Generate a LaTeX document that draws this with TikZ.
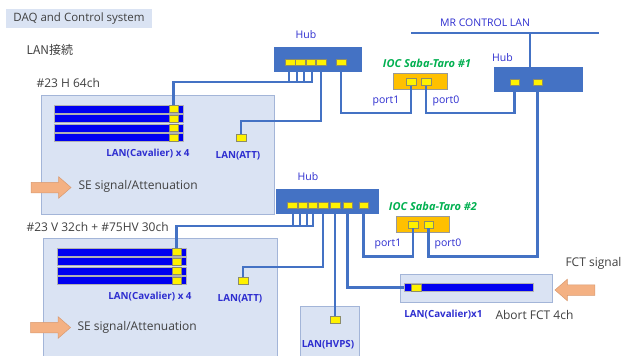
\documentclass[tikz,border=0pt]{standalone}
\usepackage{fontspec}
\setmainfont{Open Sans}
\newfontfamily\jpfont{Noto Sans CJK JP}
\usetikzlibrary{shapes.arrows}
\definecolor{panelf}{HTML}{DAE3F3}
\definecolor{paneld}{HTML}{A3B5D8}
\definecolor{barblue}{HTML}{0000F0}
\definecolor{hubblue}{HTML}{4472C4}
\definecolor{portd}{HTML}{8C8C6A}
\definecolor{iocorange}{HTML}{FFC000}
\definecolor{iocgreen}{HTML}{00B050}
\definecolor{lanblue}{HTML}{2E2ED0}
\definecolor{textgray}{HTML}{404040}
\definecolor{sigf}{HTML}{F4B183}
\definecolor{sigd}{HTML}{D99A70}
\tikzset{
  % light panels holding the crates
  panel/.style  = {draw=paneld, fill=panelf, line width=0.7pt, inner sep=0pt},
  bar/.style    = {draw=gray!60, fill=barblue, line width=0.4pt, inner sep=0pt,
                   minimum width=129pt, minimum height=8pt},
  port/.style   = {draw=portd, fill=yellow, line width=0.5pt, inner sep=0pt,
                   minimum width=9.5pt, minimum height=7pt},
  hub/.style    = {fill=hubblue, inner sep=0pt, minimum height=25pt},
  ioc/.style    = {draw=gray!80, fill=iocorange, line width=0.6pt, inner sep=0pt,
                   minimum width=54pt, minimum height=16pt},
  wire/.style   = {draw=hubblue, line width=2.4pt},
  lbl/.style    = {text=lanblue, font=\fontsize{10.5}{12}\selectfont},
  lanlbl/.style = {text=lanblue, font=\fontsize{9.8}{11}\selectfont\bfseries},
  iocname/.style= {text=iocgreen, font=\fontsize{11}{13}\selectfont\bfseries\itshape},
  tag/.style    = {text=textgray, font=\fontsize{12}{14}\selectfont},
  fat/.style    = {single arrow, draw=sigd, fill=sigf, line width=0.5pt,
                   inner xsep=0pt, inner ysep=5pt, minimum height=40pt,
                   single arrow head extend=5.5pt, single arrow tip angle=82},
}
\begin{document}
\begin{tikzpicture}[x=1pt,y=-1pt]
\useasboundingbox (0,0) rectangle (621,356);
\clip (0,0) rectangle (621,356);
\fill[white] (0,0) rectangle (621,356);
% headings
\node[fill=panelf, minimum width=146pt, minimum height=19pt, inner sep=0pt, text=textgray,
      font=\fontsize{11.5}{13}\selectfont] (title) at (79,18.5) {DAQ and Control system};
\node[tag, anchor=west] (lanhead) at (23,50) {\jpfont LAN接続};
\node[tag, anchor=west] (nameA) at (33,83) {\#23 H 64ch};
\node[tag, anchor=west] (nameB) at (23,227) {\#23 V 32ch + \#75HV 30ch};
% panels
\node[panel, minimum width=233pt, minimum height=119pt] (panA) at (157.5,154.5) {};
\node[panel, minimum width=234pt, minimum height=124pt] (panB) at (160,300) {};
\node[panel, minimum width=59pt, minimum height=56pt] (panH) at (329.5,334) {};
\node[panel, minimum width=152pt, minimum height=28pt] (panF) at (476,288) {};
% cavalier crates
\foreach \i in {1,...,4} {
  \node[bar] (barA\i) at (118.5,{109+9.5*(\i-1)}) {};
  \node[port] (cavA\i) at (173.5,{109+9.5*(\i-1)}) {};
  \node[bar] (barB\i) at (121.5,{252+9.5*(\i-1)}) {};
  \node[port] (cavB\i) at (176.5,{252+9.5*(\i-1)}) {};
}
\node[lanlbl] (capA) at (148,154) {LAN(Cavalier) x 4};
\node[lanlbl] (capB) at (150,297) {LAN(Cavalier) x 4};
\node[port] (attA) at (241,137.5) {};
\node[port] (attB) at (243,280.5) {};
\node[lanlbl] (attlblA) at (238,156) {LAN(ATT)};
\node[lanlbl] (attlblB) at (240,299) {LAN(ATT)};
\node[port] (hvps) at (335,319.5) {};
\node[lanlbl] (hvlbl) at (328,345) {LAN(HVPS)};
\node[bar] (fctbar) at (468.5,287.5) {};
\node[port] (fctp) at (416,287.5) {};
\node[lanlbl, anchor=east] (fctlbl) at (486,315) {LAN(Cavalier)x1};
\node[tag, anchor=west] (fctname) at (492,315) {Abort FCT 4ch};
% signals
\node[fat] (sigA) at (48,187.5) {};
\node[fat] (sigB) at (47.5,327.5) {};
\node[fat, shape border rotate=180] (sigF) at (578,290) {};
\node[tag, anchor=west] at (75,186) {SE signal/Attenuation};
\node[tag, anchor=west] at (74,327) {SE signal/Attenuation};
\node[tag, anchor=west] (fctsig) at (562,263) {FCT signal};
% hubs
\node[hub, minimum width=88pt] (hA) at (318,59.5) {};
\node[hub, minimum width=103pt] (hB) at (327.5,201.5) {};
\node[hub, minimum width=89pt] (hC) at (538.5,79.5) {};
\node[lbl] at (306,35) {Hub};
\node[lbl] at (308,177) {Hub};
\node[lbl] at (502.5,58) {Hub};
\foreach \x [count=\n] in {290,300,310.5,321,341}
  \node[port, minimum height=6.5pt] (hA\n) at (\x,62) {};
\foreach \x [count=\n] in {292,302.5,312.5,323,335,347.5,363.5}
  \node[port, minimum height=6.5pt] (hB\n) at (\x,205) {};
\foreach \x [count=\n] in {514.5,537.5}
  \node[port, minimum height=6.5pt] (hC\n) at (\x,82) {};
% IOCs
\node[ioc] (iocA) at (420,81) {};
\node[port] (iA1) at (411,82) {};
\node[port] (iA0) at (426,82) {};
\node[iocname] at (427,63) {IOC Saba-Taro \#1};
\node[ioc, minimum width=53pt] (iocB) at (422.5,224) {};
\node[port] (iB1) at (413,224.5) {};
\node[port] (iB0) at (428.5,224.5) {};
\node[iocname] at (433,206) {IOC Saba-Taro \#2};
\node[lbl] at (386,101) {port1};
\node[lbl] at (446,101) {port0};
\node[lbl] at (388,244) {port1};
\node[lbl] at (448,244) {port0};
% MR control LAN
\coordinate (mrL) at (411,33);
\coordinate (mrR) at (599,33);
\coordinate (mrT) at (530,33);
\node[lbl] at (485,23) {MR CONTROL LAN};
\draw[wire] (mrL) -- (mrR);
\draw[wire] (mrT) -- (mrT |- hC.north);
% cables
\coordinate (kA) at (0,113);
\coordinate (kB) at (0,256.5);
\coordinate (kC) at (0,121);
\coordinate (kD) at (0,267);
\foreach \dx in {15,23,30}
  \draw[wire] ([xshift=\dx pt]hA.south west) -- ++(0,10);
\draw[wire] ([xshift=38pt]hA.south west) -- ++(0,10) -| (cavA1.north);
\foreach \dx in {17,24,31}
  \draw[wire] ([xshift=\dx pt]hB.south west) -- ++(0,12);
\draw[wire] ([xshift=37pt]hB.south west) -- ++(0,12) -| (cavB1.north);
\draw[wire] (hA4.south) -- (hA4.south |- kC) -| (attA.north);
\draw[wire] (hB4.south) -- (hB4.south |- kD) -| (attB.north);
\draw[wire] (hA5.south) -- (hA5.south |- kA) -| (iA1.south);
\draw[wire] (iA0.south) -- (iA0.south |- kA) -| (hC1.south);
\draw[wire] (hC2.south) -- (hC2.south |- kB) -| (iB0.south);
\draw[wire] (hB7.south) -- (hB7.south |- kB) -| (iB1.south);
\draw[wire] (hB6.south) |- (fctbar.west);
\draw[wire] (hB5.south) -- (hvps.north);
\end{tikzpicture}
\end{document}
